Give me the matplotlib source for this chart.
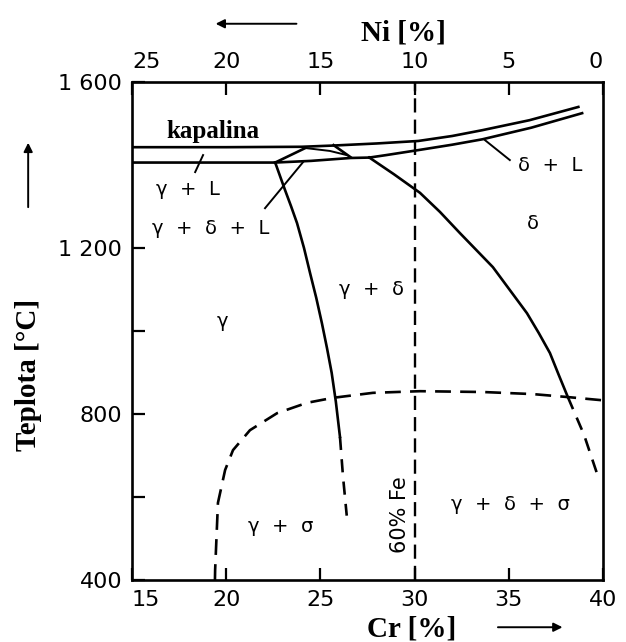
import matplotlib.pyplot as plt
from matplotlib.ticker import FixedLocator
from matplotlib.transforms import ScaledTranslation

# hranice fazi (Cr [%], teplota [C])
liq_cr = [15, 20, 24, 25.7, 28, 30.2, 32, 33.6, 36.1, 38.7]
liq_t = [1443, 1443, 1444, 1447, 1452, 1458, 1470, 1484, 1508, 1540]
sol_cr = [27.6, 28.5, 30.2, 32, 33.6, 36.2, 38.9]
sol_t = [1418, 1424, 1436, 1449, 1462, 1490, 1525]
low_cr = [15, 22.6, 24.5, 26.6, 27.6]
low_t = [1406, 1406, 1410, 1417, 1418]
lens_a_cr = [22.6, 24.2]
lens_a_t = [1406, 1441]
lens_b_cr = [25.7, 26.6]
lens_b_t = [1448, 1419]
lens_c_cr = [24.2, 25.5, 26.4]
lens_c_t = [1441, 1434, 1424]
g_cr = [22.6, 23.12, 23.44, 23.76, 24.13, 24.45, 24.78, 25.08, 25.35, 25.6, 25.82, 26.04]
g_t = [1406, 1340, 1301, 1260, 1200, 1140, 1080, 1019, 959, 899, 830, 745]
g_dash_cr = [26.04, 26.2, 26.4]
g_dash_t = [745, 650, 555]
d_cr = [27.6, 28.9, 30.29, 31.35, 32.41, 34.16, 35.97, 36.6, 37.19, 37.66, 38.14]
d_t = [1418, 1378, 1333, 1287, 1236, 1154, 1043, 995, 947, 894, 841]
d_dash_cr = [38.14, 39.0, 39.68]
d_dash_t = [841, 750, 658]
s_cr = [19.4, 19.41, 19.56, 19.94, 20.36, 21.26, 22.7, 24.29, 25.67, 27.79,
        30.29, 33.63, 36.28, 38.09, 40]
s_t = [400, 424, 586, 665, 713, 761, 802, 827, 839, 851, 855, 853, 848, 841, 833]

cr_ticks = [15, 20, 25, 30, 35, 40]
ni_ticks = [25, 20, 15, 10, 5, 0]
t_ticks = [400, 800, 1200, 1600]
t_labels = ['400', '800', '1 200', '1 600']

fig = plt.figure(figsize=(6.26, 6.42), dpi=100)
ax = fig.add_axes([0.211, 0.0966, 0.752, 0.7756])
ax.set_xlim(15, 40)
ax.set_ylim(400, 1600)

k = dict(color='black', lw=1.9)
ax.plot(liq_cr, liq_t, **k)
ax.plot(sol_cr, sol_t, **k)
ax.plot(low_cr, low_t, **k)
ax.plot(lens_a_cr, lens_a_t, **k)
ax.plot(lens_b_cr, lens_b_t, **k)
ax.plot(lens_c_cr, lens_c_t, color='black', lw=1.4)
ax.plot(g_cr, g_t, **k)
ax.plot(d_cr, d_t, **k)
ax.plot(g_dash_cr, g_dash_t, ls=(0, (5, 3.5)), **k)
ax.plot(d_dash_cr, d_dash_t, ls=(0, (5, 3.5)), **k)
ax.plot(s_cr, s_t, ls=(0, (6, 3.5)), **k)
ax.axvline(30, color='black', lw=1.7, ls=(0, (6, 3)))

# odkazove cary
ax.plot([18.77, 18.35], [1424, 1383], color='black', lw=1.4)
ax.plot([22.06, 24.08], [1296, 1407], color='black', lw=1.4)
ax.plot([33.74, 35.06], [1460, 1412], color='black', lw=1.4)

serif = 'Liberation Serif'
ax.text(16.8, 1482, 'kapalina', fontsize=18, fontweight='bold', family=serif, va='center')
lab = dict(fontsize=14, ha='center', va='center')
ax.text(17.97, 1340, 'γ  +  L', **lab)
ax.text(19.19, 1248, 'γ  +  δ  +  L', **lab)
ax.text(37.19, 1400, 'δ  +  L', **lab)
ax.text(36.28, 1260, 'δ', **lab)
ax.text(27.69, 1099, 'γ  +  δ', **lab)
ax.text(19.78, 1022, 'γ', **lab)
ax.text(22.9, 528, 'γ  +  σ', **lab)
ax.text(35.1, 583, 'γ  +  δ  +  σ', **lab)
ax.text(29.22, 557, '60% Fe', rotation=90, fontsize=15, ha='center', va='center')

ax.set_xticks(cr_ticks)
ax.set_yticks(t_ticks)
ax.set_yticklabels(t_labels)
ax.yaxis.set_minor_locator(FixedLocator([600, 1000]))
ax.tick_params(direction='in', length=9, width=1.6, labelsize=16, pad=7)
ax.tick_params(which='minor', direction='in', length=9, width=1.6)
for s in ax.spines.values():
    s.set_linewidth(1.9)

top = ax.secondary_xaxis('top', functions=(lambda c: 40 - c, lambda n: 40 - n))
top.set_xticks(ni_ticks)
top.tick_params(direction='in', length=9, width=1.6, labelsize=16, pad=7)

# posun krajnich popisku jako v predloze
shift = ScaledTranslation(0.14, 0, fig.dpi_scale_trans)
ax.get_xticklabels()[0].set_transform(ax.get_xticklabels()[0].get_transform() + shift)
top.get_xticklabels()[0].set_transform(top.get_xticklabels()[0].get_transform() + shift)
back = ScaledTranslation(-0.07, 0, fig.dpi_scale_trans)
top.get_xticklabels()[-1].set_transform(top.get_xticklabels()[-1].get_transform() + back)

fig.text(0.645, 0.949, 'Ni [%]', fontsize=21, fontweight='bold', family=serif, ha='center', va='center')
fig.text(0.658, 0.021, 'Cr [%]', fontsize=21, fontweight='bold', family=serif, ha='center', va='center')
fig.text(0.045, 0.416, 'Teplota [°C]', fontsize=21, fontweight='bold', family=serif,
         rotation=90, ha='center', va='center')

arr = dict(arrowstyle='-|>', color='black', lw=1.4, mutation_scale=13)
ax.annotate('', xy=(0.340, 0.963), xytext=(0.478, 0.963), xycoords='figure fraction', arrowprops=arr)
ax.annotate('', xy=(0.903, 0.023), xytext=(0.791, 0.023), xycoords='figure fraction', arrowprops=arr)
ax.annotate('', xy=(0.045, 0.782), xytext=(0.045, 0.673), xycoords='figure fraction', arrowprops=arr)

fig.savefig('out.png', dpi=100)
